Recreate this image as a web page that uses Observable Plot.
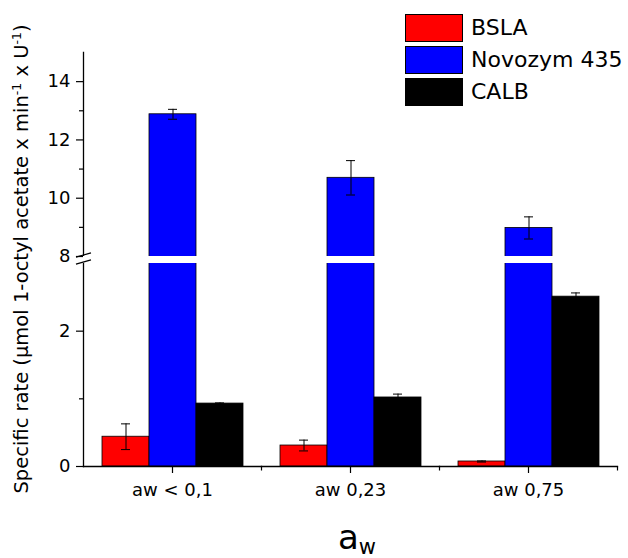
<!DOCTYPE html>
<html><head><meta charset="utf-8">
<script src="https://cdn.jsdelivr.net/npm/d3@7"></script>
<script src="https://cdn.jsdelivr.net/npm/@observablehq/plot@0.6"></script>
<style>
html,body{margin:0;padding:0;background:#fff;}
#wrap{position:relative;width:628px;height:558px;overflow:hidden;}
#wrap svg{display:block;}
#legend{position:absolute;left:405px;top:14px;font-family:"DejaVu Sans";font-size:22px;color:#000;}
.row{display:flex;align-items:center;height:28px;margin-bottom:4px;}
.sw{width:58px;height:28px;box-sizing:border-box;border:1px solid #000;}
.lab{margin-left:8px;line-height:28px;white-space:nowrap;}
</style></head><body>
<div id="wrap"></div>
<script>
// ---- data ----
const categories = ["aw < 0,1", "aw 0,23", "aw 0,75"];
const series = ["BSLA", "Novozym 435", "CALB"];
const seriesColors = ["#ff0000", "#0000ff", "#000000"];
const bsla = [0.44, 0.31, 0.074];
const bslaErr = [0.19, 0.08, 0.008];
const novozym = [12.88, 10.70, 8.98];
const novozymErr = [0.17, 0.59, 0.38];
const calb = [0.93, 1.02, 2.51];
const calbErr = [0.01, 0.05, 0.055];
const yBreak = [3, 8];            // axis break: lower part 0-3, upper part 8-15
const yDomain = [0, 3, 8, 15];
const majorTicks = [0, 2, 8, 10, 12, 14];
const minorTicks = [1, 9, 11, 13];
const yLabelParts = [
  {t: "Specific rate (\u00b5mol 1-octyl acetate x min"}, {t: "-1", sup: true},
  {t: " x U"}, {t: "-1", sup: true}, {t: ")"}
];

const values = [bsla, novozym, calb];
const errors = [bslaErr, novozymErr, calbErr];
const rows = [];
categories.forEach((c, i) => series.forEach((s, j) =>
  rows.push({cat: c, series: s, value: values[j][i], err: errors[j][i]})));

const W = 628, H = 558, ML = 82, MR = 10, MT = 52, MB = 92;
const slash = {draw(ctx) { ctx.moveTo(-7.5, 2.2); ctx.lineTo(7.5, -2.2); }};
const vtick = {draw(ctx) { ctx.moveTo(0, 0); ctx.lineTo(0, 4); }};

const chart = Plot.plot({
  width: W, height: H, marginLeft: ML, marginRight: MR, marginTop: MT, marginBottom: MB,
  style: {fontFamily: "DejaVu Sans", fontSize: "18px", color: "#000", background: "#fff", overflow: "visible"},
  fx: {domain: categories, padding: 0, label: null},
  x: {domain: series, paddingInner: 0, paddingOuter: 0.375, axis: null},
  y: {type: "linear", domain: yDomain, range: [H - MB, 263, 256, MT], axis: null},
  color: {domain: series, range: seriesColors},
  marks: [
    Plot.barY(rows, {fx: "cat", x: "series", y: "value", fill: "series", stroke: "#000", strokeWidth: 0.8}),
    Plot.frame({anchor: "left", facetAnchor: "left", stroke: "#000", strokeWidth: 1.3}),
    Plot.rect([yBreak], {y1: d => d[0], y2: d => d[1], fill: "#fff", insetLeft: -4}),
    Plot.ruleX(rows, {fx: "cat", x: "series", y1: d => d.value - d.err, y2: d => d.value + d.err, stroke: "#000", strokeWidth: 1}),
    Plot.tickY(rows, {fx: "cat", x: "series", y: d => d.value + d.err, stroke: "#000", strokeWidth: 1, insetLeft: 19, insetRight: 19}),
    Plot.tickY(rows, {fx: "cat", x: "series", y: d => d.value - d.err, stroke: "#000", strokeWidth: 1, insetLeft: 19, insetRight: 19}),
    Plot.frame({anchor: "bottom", stroke: "#000", strokeWidth: 1.3}),
    Plot.axisY({ticks: majorTicks, tickSize: 7, tickPadding: 6, label: null, strokeWidth: 1.2}),
    Plot.axisY({ticks: minorTicks, tickSize: 4, tickFormat: () => "", label: null, strokeWidth: 1.2}),
    Plot.axisFx({anchor: "bottom", tickSize: 7, tickPadding: 10, label: null, strokeWidth: 1.2}),
    Plot.dot(yBreak.map(v => ({cat: categories[0], y: v})), {fx: "cat", y: "y", frameAnchor: "left", symbol: slash, stroke: "#000", fill: "none", strokeWidth: 1.2, dy: -1.5}),
    Plot.dot(categories.slice(1), {fx: d => d, frameAnchor: "bottom-left", symbol: vtick, stroke: "#000", fill: "none", strokeWidth: 1.2}),
    Plot.dot(categories.slice(2), {fx: d => d, frameAnchor: "bottom-right", symbol: vtick, stroke: "#000", fill: "none", strokeWidth: 1.2})
  ]
});

const svg = d3.select(chart);
// y axis label with superscripts
const yl = svg.append("text")
  .attr("transform", "translate(28,259) rotate(-90)")
  .attr("text-anchor", "middle").attr("font-family", "DejaVu Sans")
  .attr("font-size", 19.5).attr("fill", "#000");
let shifted = false;
yLabelParts.forEach(p => {
  const ts = yl.append("tspan").text(p.t);
  if (p.sup && !shifted) { ts.attr("font-size", 12.5).attr("dy", -7); shifted = true; }
  else if (!p.sup && shifted) { ts.attr("dy", 7); shifted = false; }
});
// x axis title a_w
const xt = svg.append("text").attr("x", 357).attr("y", 549)
  .attr("text-anchor", "middle").attr("font-family", "DejaVu Sans").attr("fill", "#000");
xt.append("tspan").attr("font-size", 34).text("a");
xt.append("tspan").attr("font-size", 21).attr("dy", 5).text("w");

const wrap = document.getElementById("wrap");
wrap.appendChild(chart);
const legend = d3.select(wrap).append("div").attr("id", "legend");
series.forEach((s, j) => {
  const r = legend.append("div").attr("class", "row");
  r.append("div").attr("class", "sw").style("background", seriesColors[j]);
  r.append("div").attr("class", "lab").text(s);
});
</script>
</body></html>
